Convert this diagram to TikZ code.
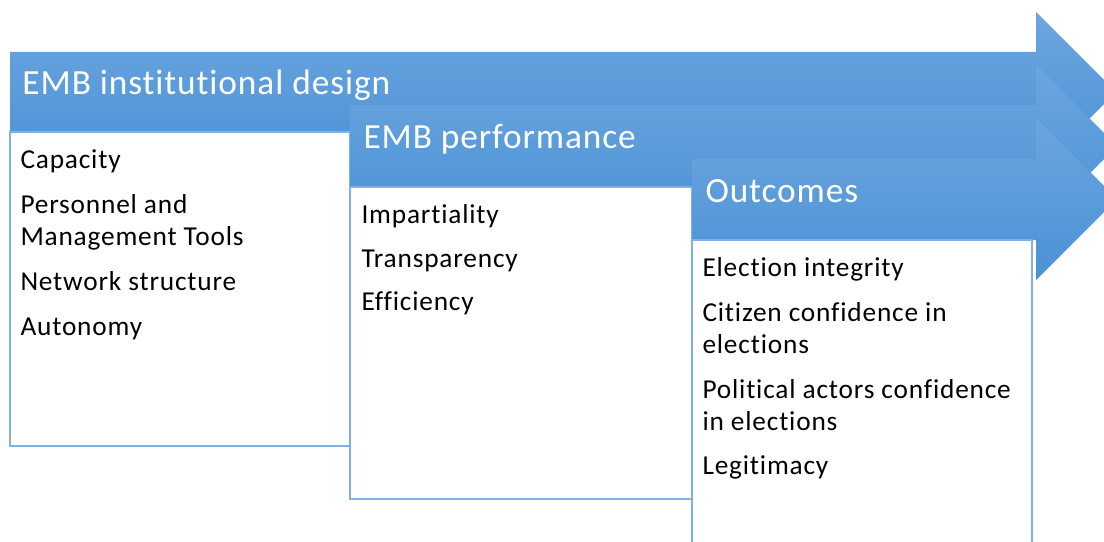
\documentclass[tikz,border=0pt]{standalone}
\usepackage{fontspec}
\setmainfont{Carlito}[Ligatures=NoCommon]
\newfontfamily\itemfont{Carlito}[LetterSpace=3.0,Ligatures=NoCommon]
\newfontfamily\titlefont{Carlito}[LetterSpace=2.6,Ligatures=NoCommon]

\definecolor{arrowtop}{RGB}{108,166,223}
\definecolor{arrowbot}{RGB}{74,145,213}
\definecolor{boxline}{RGB}{128,177,228}

\tikzset{every picture/.style={line width=0.75pt}}
\tikzset{
  stagearrow/.style={draw=none, top color=arrowtop, bottom color=arrowbot},
  listbox/.style={draw=boxline, line width=1.5pt, fill=white},
  stagetitle/.style={anchor=base west, inner sep=0pt, text=white, font=\titlefont\fontsize{26.5}{30}\selectfont},
  itemtext/.style={anchor=base west, inner sep=0pt, align=left, font=\itemfont\fontsize{20.5}{24}\selectfont},
}

\begin{document}
\begin{tikzpicture}[x=0.75pt,y=0.75pt,yscale=-1,xscale=1]
	\useasboundingbox (0,0) rectangle (1104,542);
	\clip (0,0) rectangle (1104,542);

	%Shape: Right Arrow [id:design]
	\path [stagearrow] (10,52) -- (1036,52) -- (1036,12) -- (1116,92) -- (1036,172) -- (1036,132) -- (10,132) -- cycle ;
	%Shape: Rectangle [id:designbox]
	\draw [listbox] (10,132) rectangle (350,446) ;

	%Shape: Right Arrow [id:performance]
	\path [stagearrow] (350,105) -- (1036,105) -- (1036,65) -- (1117,146) -- (1036,227) -- (1036,187) -- (350,187) -- cycle ;
	%Shape: Rectangle [id:performancebox]
	\draw [listbox] (350,187) rectangle (692,499) ;

	%Shape: Right Arrow [id:outcomes]
	\path [stagearrow] (692,159) -- (1036,159) -- (1036,118) -- (1117,199) -- (1036,280) -- (1036,240) -- (692,240) -- cycle ;
	%Shape: Rectangle [id:outcomesbox]
	\draw [listbox] (692,240) rectangle (1032,560) ;

	% Text Node
	\draw (22,94) node [stagetitle] (designtitle) {EMB institutional design};
	% Text Node
	\draw (363,148) node [stagetitle] (performancetitle) {EMB performance};
	% Text Node
	\draw (705,202) node [stagetitle] (outcomestitle) {Outcomes};

	% Text Node
	\draw (20,168) node [itemtext] (capacity) {Capacity};
	% Text Node (base = last line)
	\draw (20,245) node [itemtext] (personnel) {Personnel and\\Management Tools};
	% Text Node
	\draw (20,290) node [itemtext] (network) {Network structure};
	% Text Node
	\draw (20,335) node [itemtext] (autonomy) {Autonomy};

	% Text Node
	\draw (361,223) node [itemtext] (impartiality) {Impartiality};
	% Text Node
	\draw (361,267) node [itemtext] (transparency) {Transparency};
	% Text Node
	\draw (361,310) node [itemtext] (efficiency) {Efficiency};

	% Text Node
	\draw (702,276) node [itemtext] (integrity) {Election integrity};
	% Text Node
	\draw (702,353) node [itemtext] (citizen) {Citizen confidence in\\elections};
	% Text Node
	\draw (702,430) node [itemtext] (actors) {Political actors confidence\\in elections};
	% Text Node
	\draw (702,474) node [itemtext] (legitimacy) {Legitimacy};

\end{tikzpicture}
\end{document}
